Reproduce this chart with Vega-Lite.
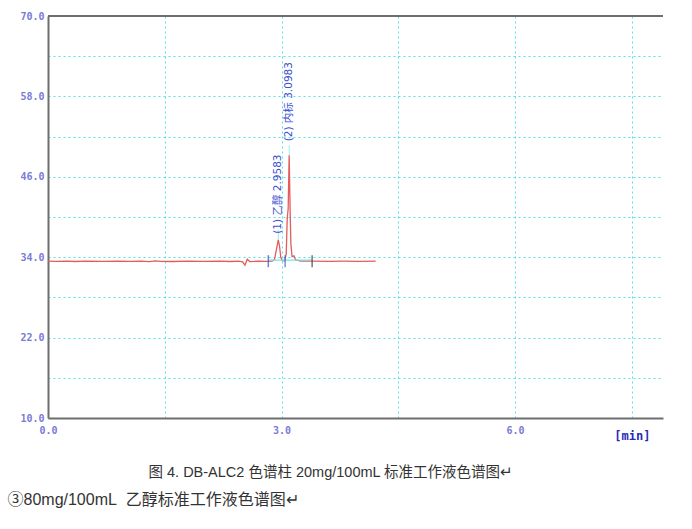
{
  "$schema": "https://vega.github.io/schema/vega-lite/v6.json",
  "width": 615,
  "height": 402,
  "autosize": {"type": "none"},
  "padding": {"left": 48, "top": 16, "right": 29, "bottom": 111},
  "background": "white",
  "config": {"view": {"stroke": null}},
  "datasets": {
    "trace": [
      {"t": 0, "v": 33.4}, {"t": 0.1, "v": 33.38}, {"t": 0.25, "v": 33.42}, {"t": 0.35, "v": 33.36},
      {"t": 0.5, "v": 33.4}, {"t": 0.7, "v": 33.37}, {"t": 0.9, "v": 33.42}, {"t": 1.05, "v": 33.38},
      {"t": 1.2, "v": 33.4}, {"t": 1.3, "v": 33.33}, {"t": 1.38, "v": 33.45}, {"t": 1.45, "v": 33.38},
      {"t": 1.6, "v": 33.36}, {"t": 1.8, "v": 33.4}, {"t": 2.0, "v": 33.38}, {"t": 2.2, "v": 33.4},
      {"t": 2.35, "v": 33.36}, {"t": 2.45, "v": 33.4}, {"t": 2.5, "v": 33.3}, {"t": 2.53, "v": 32.8},
      {"t": 2.56, "v": 33.7}, {"t": 2.59, "v": 33.35}, {"t": 2.7, "v": 33.4}, {"t": 2.8, "v": 33.38},
      {"t": 2.88, "v": 33.4}, {"t": 2.91, "v": 33.7}, {"t": 2.935, "v": 35.2}, {"t": 2.958, "v": 36.6},
      {"t": 2.975, "v": 35.6}, {"t": 2.99, "v": 34.0}, {"t": 3.01, "v": 33.5}, {"t": 3.04, "v": 33.45},
      {"t": 3.06, "v": 34.5}, {"t": 3.073, "v": 39.8}, {"t": 3.085, "v": 41.2}, {"t": 3.098, "v": 49.2},
      {"t": 3.11, "v": 41.0}, {"t": 3.12, "v": 36.0}, {"t": 3.135, "v": 34.1}, {"t": 3.16, "v": 34.2},
      {"t": 3.18, "v": 33.6}, {"t": 3.25, "v": 33.4}, {"t": 3.4, "v": 33.42}, {"t": 3.6, "v": 33.38},
      {"t": 3.8, "v": 33.4}, {"t": 4.0, "v": 33.37}, {"t": 4.21, "v": 33.4}
    ],
    "peaks": [
      {"t": 2.9583, "v": 36.6, "label": "(1) 乙醇 2.9583"},
      {"t": 3.0983, "v": 49.2, "label": "(2) 内标 3.0983"}
    ],
    "events": [
      {"t": 2.83, "v": 33.4, "kind": "start"},
      {"t": 3.046, "v": 33.4, "kind": "split"},
      {"t": 3.393, "v": 33.4, "kind": "end"}
    ],
    "baseline": [
      {"t": 2.83, "t2": 3.393, "v": 33.55}
    ]
  },
  "layer": [
    {
      "data": {"name": "trace"},
      "mark": {"type": "line", "color": "#e35b5b", "strokeWidth": 1.3},
      "encoding": {
        "x": {
          "field": "t", "type": "quantitative",
          "scale": {"domain": [0, 7.9], "nice": false, "zero": false},
          "axis": {
            "values": [0, 1.5, 3, 4.5, 6, 7.5],
            "labelExpr": "datum.value == 7.5 ? '[min]' : (datum.value % 3 == 0 ? format(datum.value, '.1f') : '')",
            "grid": true, "gridColor": "#55e0e8", "gridDash": [2, 3], "gridWidth": 1,
            "ticks": false,
            "domainColor": "#6e6e6e", "domainWidth": 2,
            "labelFont": "DejaVu Sans Mono",
            "labelFontWeight": "bold",
            "labelFontSize": {"condition": {"test": "datum.value == 7.5", "value": 12}, "value": 10},
            "labelColor": {"condition": {"test": "datum.value == 7.5", "value": "#2a2ab8"}, "value": "#7b7bd6"},
            "labelBaseline": {"condition": {"test": "datum.value == 7.5", "value": "top"}, "value": "middle"},
            "labelPadding": 12,
            "labelFlush": false,
            "labelOverlap": false,
            "title": "图 4. DB-ALC2 色谱柱 20mg/100mL 标准工作液色谱图↵",
            "titleX": 100, "titleY": 54,
            "titleAlign": "left", "titleBaseline": "middle",
            "titleFont": "Liberation Sans, Noto Sans CJK SC",
            "titleFontSize": 14.5, "titleFontWeight": "normal", "titleColor": "#333333"
          }
        },
        "y": {
          "field": "v", "type": "quantitative",
          "scale": {"domain": [10, 70], "nice": false, "zero": false},
          "axis": {
            "values": [10, 16, 22, 28, 34, 40, 46, 52, 58, 64, 70],
            "labelExpr": "(datum.value - 10) % 12 == 0 ? format(datum.value, '.1f') : ''",
            "grid": true, "gridColor": "#55e0e8", "gridDash": [2, 3], "gridWidth": 1,
            "ticks": false,
            "domainColor": "#6e6e6e", "domainWidth": 2,
            "labelFont": "DejaVu Sans Mono", "labelFontWeight": "bold",
            "labelFontSize": 10, "labelColor": "#7b7bd6",
            "labelPadding": 4, "labelFlush": false, "labelOverlap": false,
            "title": "③80mg/100mL\u00a0\u00a0乙醇标准工作液色谱图↵",
            "titleAngle": 0, "titleX": -41, "titleY": 483,
            "titleAlign": "left", "titleBaseline": "middle",
            "titleFont": "Liberation Sans, Noto Sans CJK SC",
            "titleFontSize": 16, "titleFontWeight": "normal", "titleColor": "#333333"
          }
        }
      }
    },
    {
      "data": {"values": [{}]},
      "mark": {"type": "rule", "color": "#6e6e6e", "strokeWidth": 2},
      "encoding": {"y": {"datum": 70, "type": "quantitative"}}
    },
    {
      "data": {"name": "baseline"},
      "mark": {"type": "rule", "color": "#6fe3ea", "strokeWidth": 1.2},
      "encoding": {
        "x": {"field": "t", "type": "quantitative"},
        "x2": {"field": "t2"},
        "y": {"field": "v", "type": "quantitative"}
      }
    },
    {
      "data": {"name": "events"},
      "mark": {"type": "tick", "orient": "vertical", "size": 12, "thickness": 1.5},
      "encoding": {
        "x": {"field": "t", "type": "quantitative"},
        "y": {"field": "v", "type": "quantitative"},
        "color": {"field": "kind", "type": "nominal", "legend": null,
          "scale": {"domain": ["start", "split", "end"], "range": ["#3050c0", "#4060d0", "#3a3a3a"]}}
      }
    },
    {
      "data": {"name": "peaks"},
      "mark": {"type": "tick", "orient": "vertical", "size": 10, "thickness": 1, "yOffset": -5, "color": "#6fe3ea"},
      "encoding": {
        "x": {"field": "t", "type": "quantitative"},
        "y": {"field": "v", "type": "quantitative"}
      }
    },
    {
      "data": {"name": "peaks"},
      "transform": [{"filter": "datum.t < 3"}],
      "mark": {"type": "text", "angle": 270, "align": "left", "baseline": "middle", "dx": 6,
        "font": "DejaVu Sans, Noto Sans CJK SC", "fontSize": 10.5, "color": "#3b4fd0"},
      "encoding": {
        "x": {"field": "t", "type": "quantitative"},
        "y": {"field": "v", "type": "quantitative"},
        "text": {"field": "label"}
      }
    },
    {
      "data": {"name": "peaks"},
      "transform": [{"filter": "datum.t > 3"}],
      "mark": {"type": "text", "angle": 270, "align": "left", "baseline": "middle", "dx": 14,
        "font": "DejaVu Sans, Noto Sans CJK SC", "fontSize": 10.5, "color": "#3b4fd0"},
      "encoding": {
        "x": {"field": "t", "type": "quantitative"},
        "y": {"field": "v", "type": "quantitative"},
        "text": {"field": "label"}
      }
    }
  ]
}
